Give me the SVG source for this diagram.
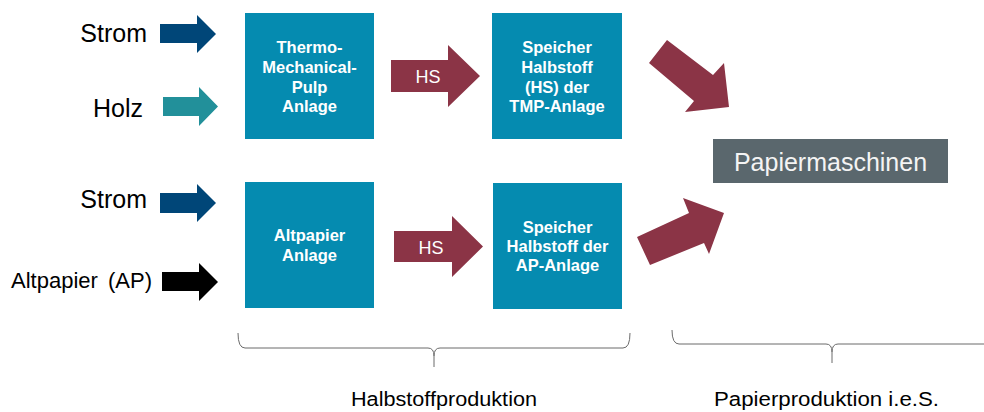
<svg xmlns="http://www.w3.org/2000/svg" width="984" height="412" viewBox="0 0 984 412">
  <style>
    .box { fill: #058bb0; }
    .boxtxt { font-family: "Liberation Sans", Arial, sans-serif; font-size: 16.5px; font-weight: bold; fill: #ffffff; text-anchor: middle; }
    .label { font-family: "Liberation Sans", Arial, sans-serif; fill: #000000; }
    .flow { fill: #8b3446; }
    .hs { font-family: "Liberation Sans", Arial, sans-serif; font-size: 18px; fill: #ffffff; text-anchor: middle; }
    .brace { fill: none; stroke: #6b6b6b; stroke-width: 1; }
    .caption { font-family: "Liberation Sans", Arial, sans-serif; font-size: 20px; fill: #000000; text-anchor: middle; }
  </style>

  <!-- input labels -->
  <g id="inputs">
    <text class="label" x="147" y="42" font-size="25" text-anchor="end">Strom</text>
    <text class="label" x="143" y="117" font-size="25" text-anchor="end">Holz</text>
    <text class="label" x="147" y="208" font-size="25" text-anchor="end">Strom</text>
    <text class="label" x="152" y="288" font-size="22" text-anchor="end" word-spacing="4">Altpapier (AP)</text>
  </g>

  <!-- process nodes -->
  <g id="tmp-anlage">
    <rect class="box" x="245" y="13" width="129" height="126"/>
    <text class="boxtxt" x="309.5" y="53">Thermo-</text>
    <text class="boxtxt" x="309.5" y="73">Mechanical-</text>
    <text class="boxtxt" x="309.5" y="93">Pulp</text>
    <text class="boxtxt" x="309.5" y="112">Anlage</text>
  </g>
  <g id="speicher-tmp">
    <rect class="box" x="492" y="13" width="130" height="126"/>
    <text class="boxtxt" x="557" y="53">Speicher</text>
    <text class="boxtxt" x="557" y="73">Halbstoff</text>
    <text class="boxtxt" x="557" y="93">(HS) der</text>
    <text class="boxtxt" x="557" y="112">TMP-Anlage</text>
  </g>
  <g id="ap-anlage">
    <rect class="box" x="245" y="182" width="129" height="126"/>
    <text class="boxtxt" x="309.5" y="241">Altpapier</text>
    <text class="boxtxt" x="309.5" y="261">Anlage</text>
  </g>
  <g id="speicher-ap">
    <rect class="box" x="493" y="183" width="129" height="126"/>
    <text class="boxtxt" x="557.5" y="233">Speicher</text>
    <text class="boxtxt" x="557.5" y="252">Halbstoff der</text>
    <text class="boxtxt" x="557.5" y="271">AP-Anlage</text>
  </g>
  <g id="papiermaschinen">
    <rect x="713" y="139" width="235" height="44" fill="#5a676d"/>
    <text x="830.5" y="171" font-family="'Liberation Sans', Arial, sans-serif" font-size="25" fill="#f4f4f4" text-anchor="middle">Papiermaschinen</text>
  </g>

  <!-- connectors: block arrows -->
  <g id="connectors">
    <polygon fill="#004678" points="160,24 197,24 197,15 216,34 197,53 197,43 160,43"/>
    <polygon fill="#22909a" points="163,97 199,97 199,87 218,106.5 199,126 199,116 163,116"/>
    <polygon fill="#004678" points="160,193 197,193 197,184 216,203 197,222 197,213 160,213"/>
    <polygon fill="#000000" points="162,272 199,272 199,263 218,282 199,301 199,291 162,291"/>

    <polygon class="flow" points="391,60 448,60 448,45 480,76 448,107 448,92 391,92"/>
    <text class="hs" x="428" y="83">HS</text>
    <polygon class="flow" points="394,231 452,231 452,216 483,246.5 452,277 452,262 394,262"/>
    <text class="hs" x="431" y="254">HS</text>

    <polygon class="flow" points="667,40 713,75 724,63 729,107 685,112 694,101 649,63"/>
    <polygon class="flow" points="637,237 689,213 683,198 724,213 709,254 704,243 650,265"/>
  </g>

  <!-- section braces and captions -->
  <g id="halbstoffproduktion">
    <path class="brace" d="M238,333 Q238,348 245,348 L428,348 Q434,348 434,356 L434,367 M434,356 Q434,348 440,348 L623,348 Q630,348 630,333"/>
    <text class="caption" x="444" y="406" font-size="21" textLength="186" lengthAdjust="spacingAndGlyphs">Halbstoffproduktion</text>
  </g>
  <g id="papierproduktion">
    <path class="brace" d="M672,330 Q672,344 679,344 L826,344 Q832,344 832,352 L832,363 M832,352 Q832,344 838,344 L990,344"/>
    <text class="caption" x="826.5" y="406" font-size="21" textLength="225" lengthAdjust="spacingAndGlyphs">Papierproduktion i.e.S.</text>
  </g>
</svg>
